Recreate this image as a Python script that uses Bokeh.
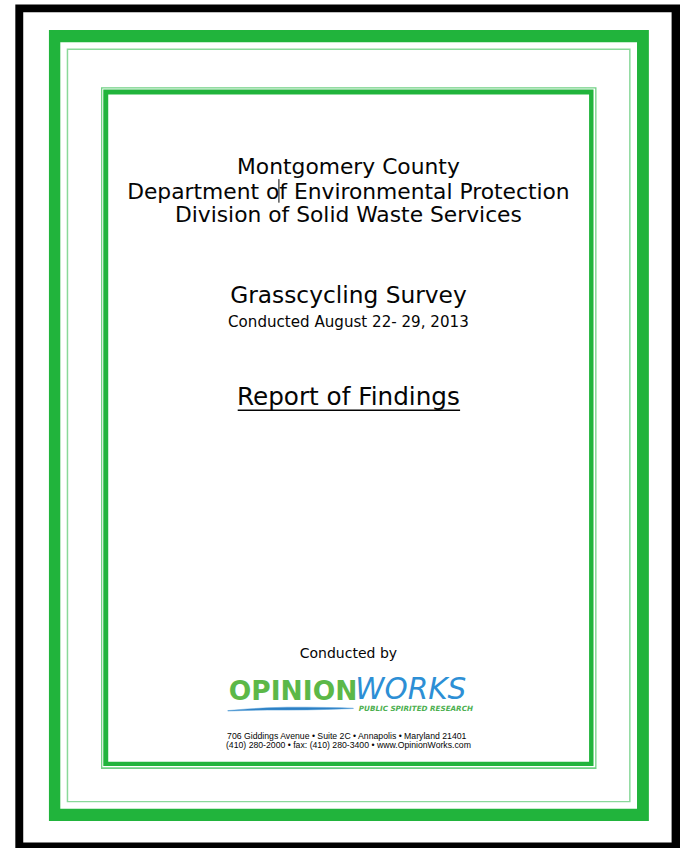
from bokeh.plotting import figure
from bokeh.models import Range1d
from bokeh.core.properties import value
from bokeh.embed import file_html
from bokeh.resources import INLINE

W, H = 680, 848
REF_W, REF_H = 688, 864
CX = 352

# nested frame bands (reference pixel coordinates), outermost first
band_left = [15, 23, 49, 60.5, 67, 68.5, 101.7, 103, 104, 109]
band_right = [690, 679, 656, 644, 637.5, 636, 603, 601.7, 600, 595.5]
band_top = [4, 12, 30, 42.5, 49, 50.5, 88.3, 89.7, 90.7, 95.7]
band_bottom = [866, 858, 836, 823.5, 817, 815.5, 783, 781.3, 780, 775.5]
band_color = ["#000000", "#ffffff", "#21b43c", "#ffffff", "#8ad99a", "#ffffff",
              "#6fd083", "#ffffff", "#21b43c", "#ffffff"]

# heading lines
title_lines = ["Montgomery County", "Department of Environmental Protection",
               "Division of Solid Waste Services"]
title_y = [177.5, 203, 227]

survey_title = ["Grasscycling Survey"]
survey_y = [308.5]
survey_date = ["Conducted August 22- 29, 2013"]
date_y = [333.5]

report_title = ["Report of Findings"]
report_y = [413.5]
underline_x = [240, 465]
underline_y = [417.5, 417.5]

by_text = ["Conducted by"]
by_y = [670.5]

logo_left = ["OPINION"]
logo_right = ["WORKS"]
logo_x = [231, 359]
logo_y = [713.5]
tagline = ["PUBLIC SPIRITED RESEARCH"]
tagline_x = [478]
tagline_y = [724.5]

swoosh_x = [230, 250, 270, 290, 310, 330, 345, 357,
            357, 345, 330, 310, 290, 270, 250, 230]
swoosh_y = [723.5, 721.8, 720.6, 720.0, 720.0, 720.3, 720.6, 721.0,
            721.4, 721.8, 722.3, 722.8, 723.0, 723.0, 723.3, 724.0]

address_lines = ["706 Giddings Avenue \u2022 Suite 2C \u2022 Annapolis \u2022 Maryland  21401",
                 "(410) 280-2000 \u2022 fax: (410) 280-3400 \u2022 www.OpinionWorks.com"]
address_y = [752.5, 762.5]

cursor_x = [281.7, 281.7]
cursor_y = [182, 206]


def base(ys, fs):
    # Bokeh's alphabetic anchor sits about 0.4em above the drawn baseline
    return [y - 0.4 * fs for y in ys]


p = figure(width=W, height=H, output_backend="svg", toolbar_location=None,
           x_range=Range1d(0, REF_W), y_range=Range1d(REF_H, 0),
           min_border=0, outline_line_color=None, background_fill_color="white",
           border_fill_color="white")
p.axis.visible = False
p.grid.visible = False

p.quad(left=band_left, right=band_right, top=band_top, bottom=band_bottom,
       fill_color=band_color, line_color=None)

font = value("DejaVu Sans")
ink = "#050505"


def centered(texts, ys, fs, fnt=font, style="normal"):
    p.text(x=[CX] * len(texts), y=base(ys, fs), text=texts, text_font=fnt,
           text_font_size=f"{fs}px", text_font_style=style, text_align="center",
           text_baseline="alphabetic", text_color=ink)


centered(title_lines, title_y, 21.8)
p.line(x=cursor_x, y=cursor_y, line_color="#000000", line_width=1)

centered(survey_title, survey_y, 23.3)
centered(survey_date, date_y, 15.1)
centered(report_title, report_y, 24.7)
p.line(x=underline_x, y=underline_y, line_color=ink, line_width=1.5)
centered(by_text, by_y, 14)

p.text(x=[logo_x[0]], y=base(logo_y, 26.5), text=logo_left, text_font=font,
       text_font_size="26.5px", text_font_style="bold", text_align="left",
       text_baseline="alphabetic", text_color="#5cb848")
p.text(x=[logo_x[1]], y=base(logo_y, 29.5), text=logo_right, text_font=font,
       text_font_size="29.5px", text_font_style="italic", text_align="left",
       text_baseline="alphabetic", text_color="#2d8fd5")
p.text(x=tagline_x, y=base(tagline_y, 7.2), text=tagline, text_font=font,
       text_font_size="7.2px", text_font_style="bold italic", text_align="right",
       text_baseline="alphabetic", text_color="#4caf50")
p.patch(x=swoosh_x, y=swoosh_y, fill_color="#2b7fc4", line_color="#5aa3db", line_width=0.5)

centered(address_lines, address_y, 8.7, fnt=value("Liberation Sans"))

open("out.html", "w").write(file_html(p, INLINE))
